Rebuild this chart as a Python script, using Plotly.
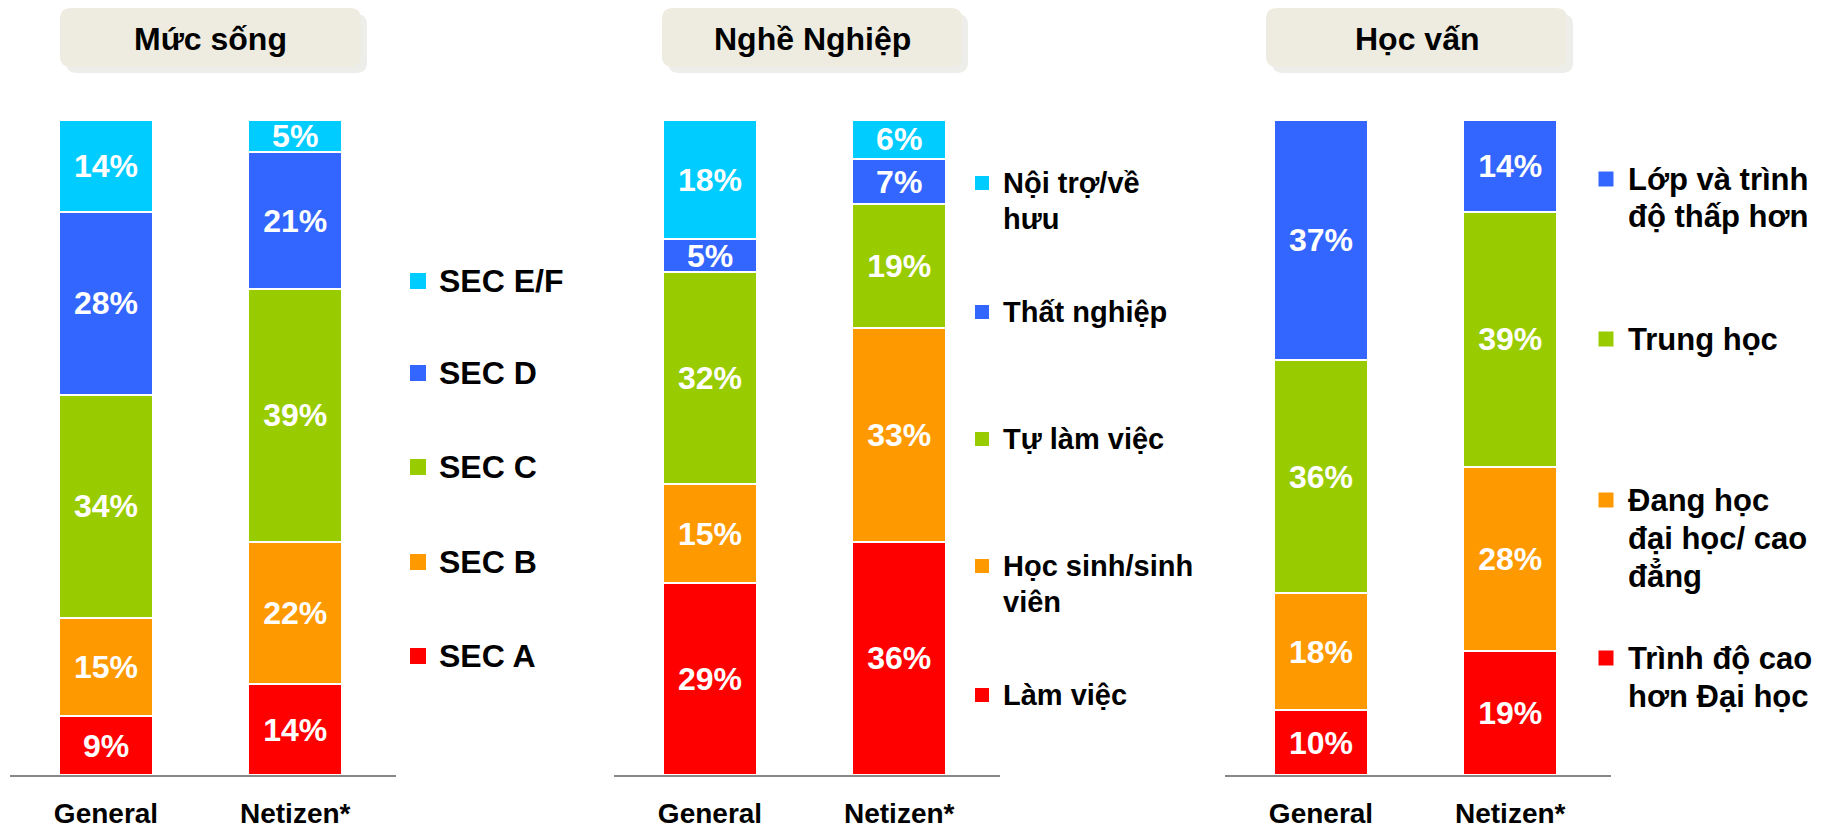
import plotly.graph_objects as go

W, H = 1837, 830
FONT = "Liberation Sans, Arial, sans-serif"

# ---------------- data ----------------
groups = ["General", "Netizen*"]

p1_title = "Mức sống"
p1_series = ["SEC A", "SEC B", "SEC C", "SEC D", "SEC E/F"]
p1_general = [9, 15, 34, 28, 14]
p1_netizen = [14, 22, 39, 21, 5]
p1_legend = ["SEC A", "SEC B", "SEC C", "SEC D", "SEC E/F"]

p2_title = "Nghề Nghiệp"
p2_series = ["Làm việc", "Học sinh/sinh viên", "Tự làm việc", "Thất nghiệp", "Nội trợ/về hưu"]
p2_general = [29, 15, 32, 5, 18]
p2_netizen = [36, 33, 19, 7, 6]
p2_legend = ["Làm việc", "Học sinh/sinh<br>viên", "Tự làm việc", "Thất nghiệp", "Nội trợ/về<br>hưu"]

p3_title = "Học vấn"
p3_series = ["Trình độ cao hơn Đại học", "Đang học đại học/ cao đẳng", "Trung học", "Lớp và trình độ thấp hơn"]
p3_general = [10, 18, 36, 37]
p3_netizen = [19, 28, 39, 14]
p3_legend = ["Trình độ cao<br>hơn Đại học", "Đang học<br>đại học/ cao<br>đẳng", "Trung học", "Lớp và trình<br>độ thấp hơn"]

colors5 = ["#FF0000", "#FF9900", "#99CC00", "#3366FF", "#00CCFF"]
colors4 = ["#FF0000", "#FF9900", "#99CC00", "#3366FF"]

# ---------------- layout geometry (pixels) ----------------
panels = [
    dict(title=p1_title, series=p1_series, gen=p1_general, net=p1_netizen, leg=p1_legend, colors=colors5,
         ax0=9.5, box=(60, 8, 361, 67), mk_x=418, mk_s=16, txt_x=437, leg_font=32, lh=38,
         mk_y=[656, 562, 467, 373, 281]),
    dict(title=p2_title, series=p2_series, gen=p2_general, net=p2_netizen, leg=p2_legend, colors=colors5,
         ax0=613.5, box=(662, 8, 962, 67), mk_x=982, mk_s=14, txt_x=1001, leg_font=29, lh=36,
         mk_y=[695, 566, 439, 312, 183]),
    dict(title=p3_title, series=p3_series, gen=p3_general, net=p3_netizen, leg=p3_legend, colors=colors4,
         ax0=1224.5, box=(1266, 8, 1567, 67), mk_x=1606, mk_s=15, txt_x=1626, leg_font=31, lh=38,
         mk_y=[658, 500, 339, 179]),
]
AX_W = 386
Y_TOP, Y_BOT = 120, 775


def px(x):
    return x / W


def py(y):
    return 1 - y / H


def rounded_rect(x0, y0, x1, y1, r):
    X0, X1 = px(x0), px(x1)
    Y0, Y1 = py(y0), py(y1)
    rx, ry = r / W, r / H
    return (f"M{X0 + rx},{Y0} L{X1 - rx},{Y0} Q{X1},{Y0} {X1},{Y0 - ry} "
            f"L{X1},{Y1 + ry} Q{X1},{Y1} {X1 - rx},{Y1} L{X0 + rx},{Y1} "
            f"Q{X0},{Y1} {X0},{Y1 + ry} L{X0},{Y0 - ry} Q{X0},{Y0} {X0 + rx},{Y0} Z")


fig = go.Figure()
shapes = []
annotations = []
layout_axes = {}

for i, p in enumerate(panels):
    suffix = "" if i == 0 else str(i + 1)
    xa, ya = "x" + suffix, "y" + suffix
    for j, name in enumerate(p["series"]):
        fig.add_trace(go.Bar(
            name=name,
            x=groups,
            y=[p["gen"][j], p["net"][j]],
            text=[f"{p['gen'][j]}%", f"{p['net'][j]}%"],
            textposition="inside",
            insidetextanchor="middle",
            textangle=0,
            constraintext="none",
            textfont=dict(family=FONT, size=32, color="white", weight="bold"),
            marker=dict(color=p["colors"][j], line=dict(color="white", width=2)),
            width=0.495,
            xaxis=xa, yaxis=ya,
            showlegend=False,
            hovertemplate="%{x}: %{text}<extra>" + name + "</extra>",
        ))
    layout_axes["xaxis" + suffix] = dict(
        domain=[px(p["ax0"]), px(p["ax0"] + AX_W)],
        range=[-0.51, 1.53],
        anchor=ya,
        showline=True, linecolor="#888888", linewidth=2,
        showgrid=False, zeroline=False, ticks="",
        tickfont=dict(family=FONT, size=28, color="black", weight="bold"),
        ticklabelstandoff=12,
        fixedrange=True,
    )
    layout_axes["yaxis" + suffix] = dict(
        domain=[py(Y_BOT), py(Y_TOP)],
        range=[0, 100],
        anchor=xa,
        visible=False,
        fixedrange=True,
    )

    # title box with shadow
    x0, y0, x1, y1 = p["box"]
    shapes.append(dict(type="path", xref="paper", yref="paper",
                       path=rounded_rect(x0 + 6, y0 + 6, x1 + 6, y1 + 6, 11),
                       fillcolor="#EDEDEA", line=dict(width=0), layer="below"))
    shapes.append(dict(type="path", xref="paper", yref="paper",
                       path=rounded_rect(x0, y0, x1, y1, 11),
                       fillcolor="#EEECE1", line=dict(width=0), layer="below"))
    annotations.append(dict(text=p["title"], xref="paper", yref="paper",
                            x=px((x0 + x1) / 2), y=py((y0 + y1) / 2 + 1),
                            xanchor="center", yanchor="middle", showarrow=False,
                            font=dict(family=FONT, size=32, color="black", weight="bold")))

    # legend (markers + labels), one line per <br>
    s = p["mk_s"]
    for j, lab in enumerate(p["leg"]):
        cy = p["mk_y"][j]
        shapes.append(dict(type="rect", xref="paper", yref="paper",
                           x0=px(p["mk_x"] - s / 2), x1=px(p["mk_x"] + s / 2),
                           y0=py(cy + s / 2), y1=py(cy - s / 2),
                           fillcolor=p["colors"][j], line=dict(width=0)))
        for k, line in enumerate(lab.split("<br>")):
            annotations.append(dict(text=line, xref="paper", yref="paper",
                                    x=px(p["txt_x"]), y=py(cy + k * p["lh"]),
                                    xanchor="left", yanchor="middle", align="left",
                                    showarrow=False,
                                    font=dict(family=FONT, size=p["leg_font"], color="black",
                                              weight="bold")))

fig.update_layout(
    width=W, height=H,
    margin=dict(l=0, r=0, t=0, b=0),
    paper_bgcolor="white", plot_bgcolor="white",
    barmode="stack", barnorm="percent",
    showlegend=False,
    shapes=shapes, annotations=annotations,
    font=dict(family=FONT),
    **layout_axes,
)

fig.write_html(
    "out.html",
    config={"displayModeBar": False},
    post_script="document.body.style.margin='0';document.body.style.overflow='hidden';",
)
